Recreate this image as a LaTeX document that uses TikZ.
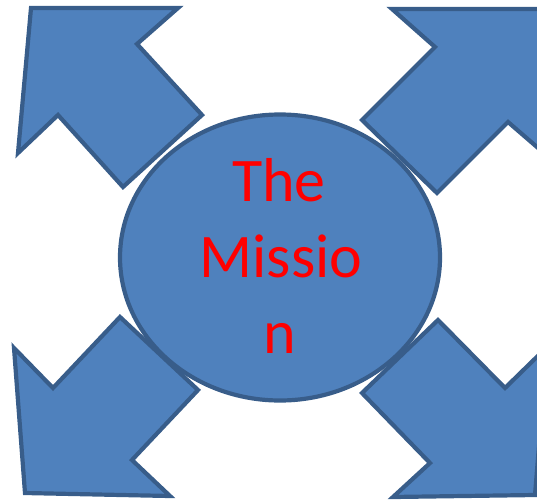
\documentclass[tikz,border=0pt]{standalone}
\usepackage{fontspec}
\setmainfont{Carlito}
\usetikzlibrary{shapes.geometric}
\begin{document}
\begin{tikzpicture}[x=1pt,y=-1pt,
  blockarrow/.style={fill=blockfill,draw=blockline,line width=4.2pt,line join=miter},
  missiontext/.style={text=red,font=\fontsize{62}{76}\selectfont,anchor=base,inner sep=0pt}]
\definecolor{blockfill}{HTML}{4F81BD}
\definecolor{blockline}{HTML}{385D8A}
\useasboundingbox (0,0) rectangle (537,500);
\clip (0,0) rectangle (537,500);
% top-left arrow
\draw[blockarrow] (31,8) -- (178,8) -- (137,44) -- (202,115) -- (123,187) -- (58,115) -- (18,153) -- cycle;
% top-right arrow
\draw[blockarrow] (392,9) -- (552,9) -- (552,160) -- (508,122) -- (437,193) -- (362,120) -- (435,47) -- cycle;
% bottom-left arrow
\draw[blockarrow] (120,317) -- (198,390) -- (132,460) -- (170,496) -- (25,493) -- (14,348) -- (53,388) -- cycle;
% bottom-right arrow
\draw[blockarrow] (438,320) -- (505,388) -- (547,347) -- (535,495) -- (393,497) -- (430,463) -- (362,393) -- cycle;
% central ellipse
\node[draw=blockline,fill=blockfill,line width=4.2pt,ellipse,minimum width=320pt,minimum height=286pt,inner sep=0pt] (c) at (280,257.5) {};
\node[missiontext] (t1) at (279,201) {The};
\node[missiontext] (t2) at (281,277) {Missio};
\node[missiontext] (t3) at (280,353) {n};
\end{tikzpicture}
\end{document}
